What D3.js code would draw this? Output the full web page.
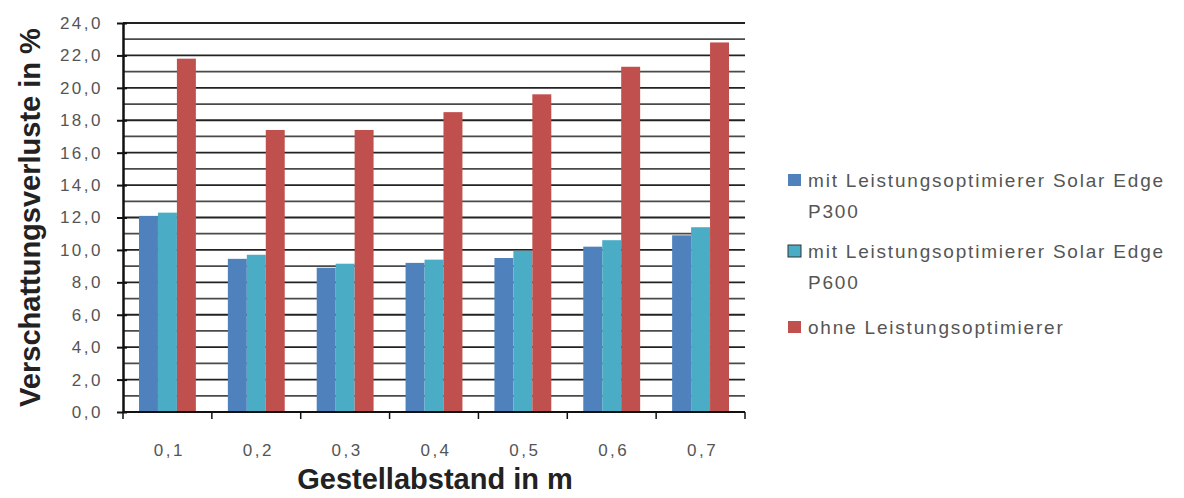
<!DOCTYPE html>
<html>
<head>
<meta charset="utf-8">
<script src="https://cdn.jsdelivr.net/npm/d3@7"></script>
<style>
  html, body { margin: 0; padding: 0; background: #fff; }
  svg { display: block; }
</style>
</head>
<body>
<svg id="chart" width="1184" height="498"></svg>
<script>
// Gestellabstand (m) and shading losses (%) per configuration
const categories = ["0,1", "0,2", "0,3", "0,4", "0,5", "0,6", "0,7"];
const seriesNames = [
  ["mit Leistungsoptimierer Solar Edge", "P300"],
  ["mit Leistungsoptimierer Solar Edge", "P600"],
  ["ohne Leistungsoptimierer"]
];
const p300 = [12.1, 9.45, 8.9, 9.2, 9.5, 10.2, 10.9];
const p600 = [12.3, 9.7, 9.15, 9.4, 9.95, 10.6, 11.4];
const ohne = [21.8, 17.4, 17.4, 18.5, 19.6, 21.3, 22.8];
const yTicks = [0, 2, 4, 6, 8, 10, 12, 14, 16, 18, 20, 22, 24];
const colors = ["#4F81BD", "#4BACC6", "#C0504D"];

const seriesValues = [p300, p600, ohne];
const svg = d3.select("#chart");
const plot = { left: 123, right: 745, top: 23, bottom: 412 };
const font = "'Liberation Sans', Arial, sans-serif";

const x0 = d3.scaleBand()
  .domain(categories)
  .range([plot.left, plot.right])
  .paddingInner(0.36)
  .paddingOuter(0.18);
const x1 = d3.scaleBand()
  .domain(d3.range(seriesValues.length))
  .range([0, x0.bandwidth()]);
const y = d3.scaleLinear().domain([0, 24]).range([plot.bottom, plot.top]);

const fmt = v => d3.format(".1f")(v).replace(".", ",");

// horizontal gridlines at every unit
svg.append("g")
  .selectAll("line")
  .data(d3.range(1, 25))
  .join("line")
  .attr("x1", plot.left).attr("x2", plot.right)
  .attr("y1", d => y(d)).attr("y2", d => y(d))
  .attr("stroke", d => d % 2 === 0 ? "#222" : "#4a4a4a")
  .attr("stroke-width", 1.8);

// bars
const groups = svg.append("g")
  .selectAll("g")
  .data(categories)
  .join("g")
  .attr("transform", d => `translate(${x0(d)},0)`);

groups.selectAll("rect")
  .data((d, i) => seriesValues.map((s, k) => ({ k, v: s[i] })))
  .join("rect")
  .attr("x", d => x1(d.k))
  .attr("width", x1.bandwidth())
  .attr("y", d => y(d.v))
  .attr("height", d => y(0) - y(d.v))
  .attr("fill", d => colors[d.k]);

// y axis
const yAxis = d3.axisLeft(y)
  .tickValues(yTicks)
  .tickFormat(fmt)
  .tickSizeInner(6)
  .tickSizeOuter(0)
  .tickPadding(14);
const gy = svg.append("g")
  .attr("transform", `translate(${plot.left},0)`)
  .call(yAxis);
gy.select(".domain").attr("stroke", "#111").attr("stroke-width", 2.5);
gy.selectAll(".tick line").attr("stroke", "#111").attr("stroke-width", 2).attr("x2", 4).attr("x1", -6);
gy.selectAll(".tick text")
  .attr("fill", "#555")
  .attr("x", -20)
  .style("font-family", font)
  .style("font-size", "17px")
  .style("letter-spacing", "2.5px");

// x axis with ticks between categories
const step = x0.step();
const boundaries = d3.range(categories.length + 1).map(i => plot.left + i * step);
const gx = svg.append("g");
gx.append("line")
  .attr("x1", plot.left).attr("x2", plot.right)
  .attr("y1", plot.bottom).attr("y2", plot.bottom)
  .attr("stroke", "#111").attr("stroke-width", 2);
gx.selectAll("line.tick")
  .data(boundaries)
  .join("line")
  .attr("class", "tick")
  .attr("x1", d => d).attr("x2", d => d)
  .attr("y1", plot.bottom).attr("y2", plot.bottom + 7)
  .attr("stroke", "#111").attr("stroke-width", 1.5);
gx.selectAll("text")
  .data(categories)
  .join("text")
  .attr("x", d => x0(d) + x0.bandwidth() / 2 + 2)
  .attr("y", 456)
  .attr("text-anchor", "middle")
  .attr("fill", "#555")
  .style("font-family", font)
  .style("font-size", "17px")
  .style("letter-spacing", "2.5px")
  .text(d => d);

// axis titles
svg.append("text")
  .attr("transform", `translate(40,${(plot.top + plot.bottom) / 2}) rotate(-90)`)
  .attr("text-anchor", "middle")
  .attr("fill", "#222")
  .style("font-family", font)
  .style("font-size", "29px")
  .style("font-weight", "bold")
  .text("Verschattungsverluste in %");

svg.append("text")
  .attr("x", 435)
  .attr("y", 489)
  .attr("text-anchor", "middle")
  .attr("fill", "#222")
  .style("font-family", font)
  .style("font-size", "29px")
  .style("font-weight", "bold")
  .text("Gestellabstand in m");

// legend
const legendY = [180, 251, 327];
const legend = svg.append("g");
seriesNames.forEach((lines, k) => {
  legend.append("rect")
    .attr("x", 788).attr("y", legendY[k] - 6)
    .attr("width", 13).attr("height", 12)
    .attr("fill", colors[k])
    .attr("stroke", k === 1 ? "#333" : "none")
    .attr("stroke-width", 1);
  const t = legend.append("text")
    .attr("x", 808).attr("y", legendY[k] + 7)
    .attr("fill", "#555")
    .style("font-family", font)
    .style("font-size", "19px")
    .style("letter-spacing", "1.8px");
  lines.forEach((ln, j) => {
    t.append("tspan").attr("x", 808).attr("dy", j === 0 ? 0 : 31).text(ln);
  });
});
</script>
</body>
</html>
